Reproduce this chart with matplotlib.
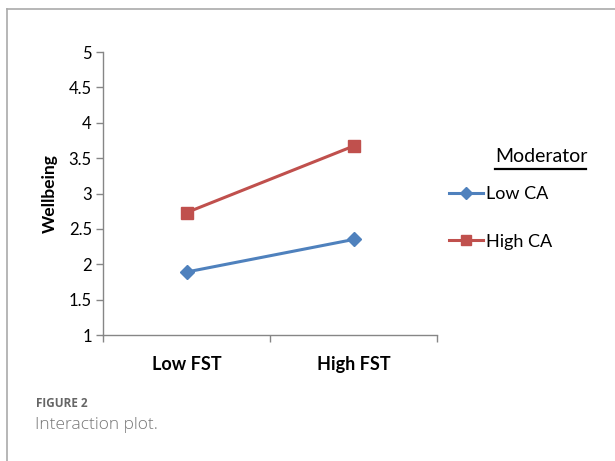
import matplotlib.pyplot as plt
from matplotlib.lines import Line2D

# data
categories = ['Low FST', 'High FST']
low_ca = [1.89, 2.35]
high_ca = [2.73, 3.67]
yticks = [1, 1.5, 2, 2.5, 3, 3.5, 4, 4.5, 5]
ytick_labels = ['1', '1.5', '2', '2.5', '3', '3.5', '4', '4.5', '5']

blue = '#4F81BD'
red = '#C0504D'
axis_gray = '#868686'

plt.rcParams['font.family'] = ['Lato', 'DejaVu Sans']

fig = plt.figure(figsize=(6.15, 4.61), dpi=100)
ax = fig.add_axes([103/615, 1-335/461, 334/615, 283/461])

x = list(range(len(categories)))
ax.plot(x, low_ca, color=blue, lw=2.2, marker='D', ms=7, mec=blue, mfc=blue, label='Low CA')
ax.plot(x, high_ca, color=red, lw=2.2, marker='s', ms=8, mec=red, mfc=red, label='High CA')

ax.set_xlim(-0.5, len(categories) - 0.5)
ax.set_ylim(1, 5)
ax.set_yticks(yticks)
ax.set_yticklabels(ytick_labels, fontsize=12)
ax.set_xticks(x)
ax.set_xticklabels(categories, fontsize=13, fontweight='bold')
ax.set_xticks([-0.5, 0.5, 1.5], minor=True)
ax.tick_params(axis='x', which='major', length=0, pad=15)
ax.tick_params(axis='x', which='minor', length=5, color=axis_gray, width=1)
ax.tick_params(axis='y', length=5, color=axis_gray, width=1, pad=3)
for s in ['top', 'right']:
    ax.spines[s].set_visible(False)
for s in ['left', 'bottom']:
    ax.spines[s].set_color(axis_gray)
    ax.spines[s].set_linewidth(1)
ax.set_ylabel('Wellbeing', fontsize=12.5, fontweight='bold', labelpad=8)

leg = ax.legend(loc='upper left', bbox_to_anchor=(440/615, 1-177/461),
                bbox_transform=fig.transFigure, frameon=False, fontsize=13,
                handlelength=1.9, handletextpad=0.12, labelspacing=1.75,
                borderpad=0, markerscale=0.9)

# legend title with underline
fig.text(541/615, 1-157/461, 'Moderator', fontsize=14, ha='center', va='center')
fig.add_artist(Line2D([495/615, 586/615], [1-169/461, 1-169/461], color='black', lw=1.6))

# page frame
fig.add_artist(Line2D([7/615, 1], [1-9/461, 1-9/461], color='#aaaaaa', lw=1.2))
fig.add_artist(Line2D([7/615, 7/615], [0, 1-9/461], color='#aaaaaa', lw=1.2))

# caption
fig.text(36/615, 1-403/461, 'FIGURE 2', fontsize=8.5, color='#666666',
         fontweight='bold', va='center', family=['Open Sans', 'DejaVu Sans'])
fig.text(35/615, 1-425/461, 'Interaction plot.', fontsize=12.5, color='#777777',
         va='center', family=['Open Sans', 'DejaVu Sans'], fontweight='light')

fig.savefig('out.png', dpi=100)
